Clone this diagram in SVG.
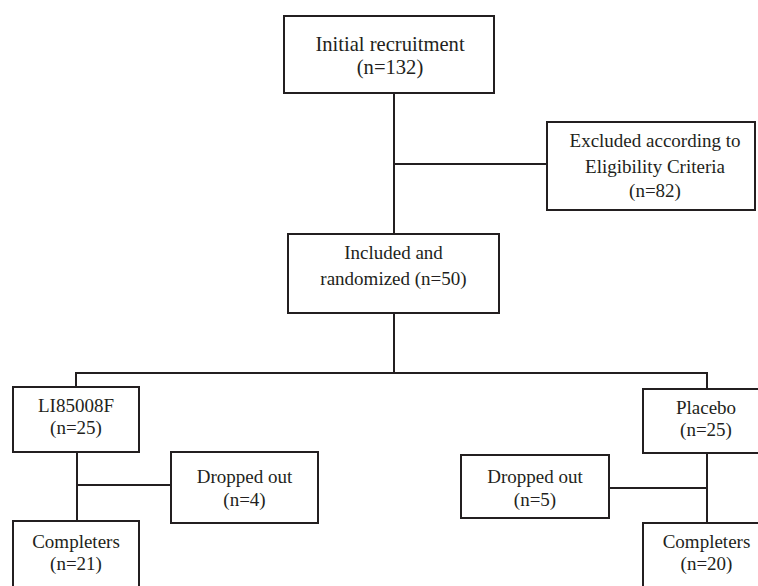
<svg xmlns="http://www.w3.org/2000/svg" width="758" height="586" viewBox="0 0 758 586">
<style>
.box{fill:#fff;stroke:#231f20;stroke-width:2}
.ln{fill:none;stroke:#231f20;stroke-width:2}
text{font-family:"Liberation Serif","Times New Roman",serif;font-size:19px;fill:#231f20;text-anchor:middle}
.big{font-size:20.6px}
</style>
<rect width="758" height="586" fill="#fff"/>
<g id="connectors">
<path class="ln" d="M394,93 V234 M394,164 H547 M394,313 V373 M76,387 V373 H707 V389"/>
<path class="ln" d="M77,452 V521 M77,485 H171"/>
<path class="ln" d="M707,453 V523 M707,488 H609"/>
</g>
<g id="initial">
<rect class="box" x="284" y="16" width="210" height="77"/>
<text class="big" x="390" y="51">Initial recruitment</text>
<text class="big" x="390" y="74">(n=132)</text>
</g>
<g id="excluded">
<rect class="box" x="547" y="122" width="208" height="88"/>
<text x="655" y="147">Excluded according to</text>
<text x="655" y="173">Eligibility Criteria</text>
<text x="655" y="197">(n=82)</text>
</g>
<g id="included">
<rect class="box" x="288" y="234" width="211" height="79"/>
<text x="393.5" y="259">Included and</text>
<text x="393.5" y="285">randomized (n=50)</text>
</g>
<g id="li85008f">
<rect class="box" x="13" y="387" width="126" height="65"/>
<text x="76" y="412">LI85008F</text>
<text x="76" y="434">(n=25)</text>
</g>
<g id="dropped4">
<rect class="box" x="171" y="452" width="147" height="71"/>
<text x="244.5" y="483">Dropped out</text>
<text x="244.5" y="506">(n=4)</text>
</g>
<g id="completers21">
<rect class="box" x="13" y="521" width="126" height="80"/>
<text x="76" y="548">Completers</text>
<text x="76" y="570">(n=21)</text>
</g>
<g id="placebo">
<rect class="box" x="643" y="389" width="130" height="64"/>
<text x="706" y="414">Placebo</text>
<text x="706" y="436">(n=25)</text>
</g>
<g id="dropped5">
<rect class="box" x="461" y="455" width="148" height="63"/>
<text x="535" y="483">Dropped out</text>
<text x="535" y="506">(n=5)</text>
</g>
<g id="completers20">
<rect class="box" x="643" y="523" width="130" height="80"/>
<text x="706.5" y="548">Completers</text>
<text x="706.5" y="570">(n=20)</text>
</g>
</svg>
